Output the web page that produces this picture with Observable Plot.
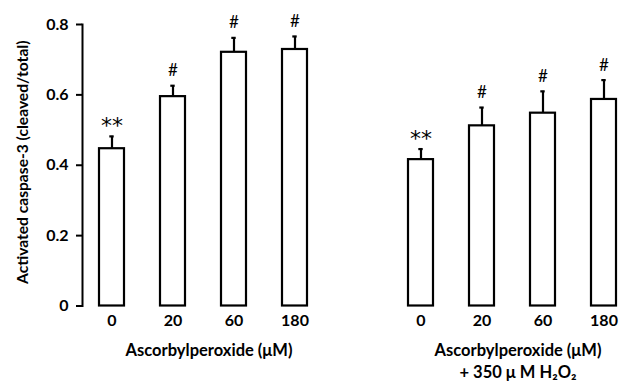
<!DOCTYPE html>
<html>
<head>
<meta charset="utf-8">
<script src="https://cdn.jsdelivr.net/npm/d3@7"></script>
<script src="https://cdn.jsdelivr.net/npm/@observablehq/plot@0.6"></script>
<style>
  html, body { margin: 0; padding: 0; background: #fff; }
</style>
</head>
<body>
<div id="chart"></div>
<script>
const doses = ["0", "20", "60", "180"];
const groups = ["A", "B"];
const meansAlone = [0.447, 0.595, 0.721, 0.729];
const errAlone = [0.035, 0.031, 0.041, 0.037];
const meansH2O2 = [0.416, 0.512, 0.548, 0.587];
const errH2O2 = [0.030, 0.052, 0.062, 0.055];
const signifAlone = ["**", "#", "#", "#"];
const signifH2O2 = ["**", "#", "#", "#"];
const groupLabels = ["Ascorbylperoxide (μM)", "Ascorbylperoxide (μM)\n+ 350 μ M H₂O₂"];
const yTicks = [0, 0.2, 0.4, 0.6, 0.8];
const yLabel = "Activated caspase-3 (cleaved/total)";

const rows = [];
doses.forEach((d, i) => {
  rows.push({group: groups[0], dose: d, mean: meansAlone[i], err: errAlone[i], sig: signifAlone[i]});
});
doses.forEach((d, i) => {
  rows.push({group: groups[1], dose: d, mean: meansH2O2[i], err: errH2O2[i], sig: signifH2O2[i]});
});
const labelRows = groups.map((g, i) => ({group: g, label: groupLabels[i]}));

const font = "Lato, 'Open Sans', sans-serif";

const chart = Plot.plot({
  width: 635,
  height: 386,
  marginLeft: 82,
  marginRight: 0,
  marginTop: 24,
  marginBottom: 80.5,
  style: {fontFamily: font, color: "#000", background: "#fff"},
  fx: {domain: groups, paddingInner: 0.212, paddingOuter: 0, axis: null, label: null},
  x: {domain: doses, paddingInner: 0.589, paddingOuter: 0.26, label: null},
  y: {domain: [0, 0.8], label: null},
  marks: [
    Plot.frame({anchor: "left", facetAnchor: "left", stroke: "#000", strokeWidth: 2}),
    Plot.axisY({ticks: yTicks, tickFormat: d => String(d), tickSize: 6, tickPadding: 8,
      strokeWidth: 2, fontSize: 16, fontWeight: "bold", label: null}),
    Plot.axisX({tickSize: 0, tickPadding: 9, fontSize: 16, fontWeight: "bold", label: null}),
    Plot.ruleX(rows, {fx: "group", x: "dose", y1: "mean", y2: d => d.mean + d.err, stroke: "#000", strokeWidth: 2.2}),
    Plot.tickY(rows, {fx: "group", x: "dose", y: d => d.mean + d.err, stroke: "#000", strokeWidth: 2.2, insetLeft: 10.3, insetRight: 10.3}),
    Plot.barY(rows, {fx: "group", x: "dose", y: "mean", fill: "#fff", stroke: "#000", strokeWidth: 2.2}),
    Plot.text(rows.filter(d => d.sig === "**"), {fx: "group", x: "dose", y: d => d.mean + d.err, text: "sig", dy: -10,
      fontSize: 22, fontFamily: "'DejaVu Sans', sans-serif", fontWeight: "normal", fill: "#000", letterSpacing: 1}),
    Plot.text(rows.filter(d => d.sig !== "**"), {fx: "group", x: "dose", y: d => d.mean + d.err, text: "sig", dy: -15,
      fontSize: 17, fontWeight: "normal", fill: "#000"}),
    Plot.text(labelRows, {fx: "group", text: "label", frameAnchor: "bottom", lineAnchor: "top",
      dy: 34, dx: 5, fontSize: 16.5, fontWeight: "bold", lineHeight: 1.35, fill: "#000"}),
    Plot.text([yLabel], {fx: () => groups[0], text: d => d, frameAnchor: "left", textAnchor: "middle", rotate: -90,
      dx: -60, dy: -3, fontSize: 15.6, fontWeight: "bold", fill: "#000"})
  ]
});
document.getElementById("chart").appendChild(chart);
</script>
</body>
</html>
